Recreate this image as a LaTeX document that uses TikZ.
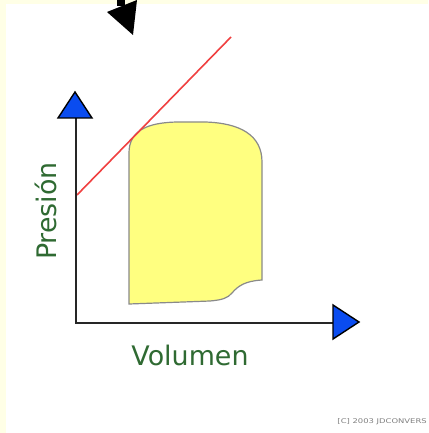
\documentclass[tikz,border=0pt]{standalone}
\usepackage{fontspec}
\setmainfont{DejaVu Sans}
\definecolor{frameyel}{HTML}{FFFFE6}
\definecolor{shapefill}{HTML}{FFFF80}
\definecolor{shapeline}{HTML}{8A8A8A}
\definecolor{labgreen}{HTML}{2F6A32}
\definecolor{arrowblue}{HTML}{0A4CF0}
\definecolor{linered}{HTML}{F04040}
\tikzset{
  axisline/.style={draw=black!85, line width=2bp},
  bluehead/.style={fill=arrowblue, draw=black, line width=1.4bp, line join=miter},
  axislabel/.style={text=labgreen, font=\fontsize{27}{30}\selectfont, inner sep=0pt},
}
\begin{document}
\begin{tikzpicture}[x=1bp, y=-1bp]
\useasboundingbox (0,0) rectangle (428,433);
% background with light frame
\fill[frameyel] (0,0) rectangle (428,433);
\fill[white] (6,4) rectangle (428,433);
% region (yellow shape)
\path[fill=shapefill, draw=shapeline, line width=1.2bp]
  (129,304) -- (129,153)
  .. controls (129,132) and (145,122) .. (180,122)
  -- (205,122)
  .. controls (240,123) and (262,135) .. (262,162)
  -- (262,280)
  .. controls (245,281) and (238,286) .. (232,293)
  .. controls (228,298) and (222,300) .. (210,301)
  -- cycle;
% red line
\coordinate (r1) at (77,195);
\coordinate (r2) at (231,37);
\draw[linered, line width=1.6bp] (r1) -- (r2);
% axes
\coordinate (origin) at (76,323);
\coordinate (ytop) at (76,118);
\coordinate (xright) at (333,323);
\draw[axisline] (ytop) -- (origin) -- (xright);
\path[bluehead] (58,118) -- (75,92) -- (92,118) -- cycle;
\path[bluehead] (333,305) -- (359,322) -- (333,339) -- cycle;
% black arrow at top
\fill[black] (117,0) rectangle (125,6);
\fill[black] (107,12) -- (137,0) -- (133,35) -- cycle;
% labels
\node[axislabel, rotate=90] (presion) at (46,211) {Presión};
\node[axislabel] (volumen) at (190,355) {Volumen};
\node[anchor=east, text=black!50, font=\fontsize{6.5}{7}\selectfont, inner sep=0pt, xscale=1.3] (copy) at (427,422) {[C] 2003 JDCONVERS};
\end{tikzpicture}
\end{document}
